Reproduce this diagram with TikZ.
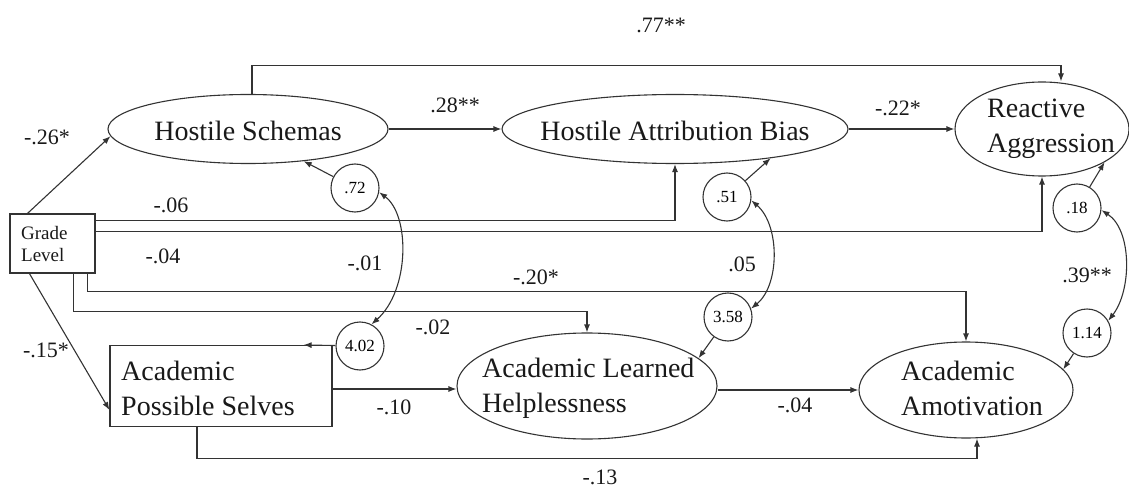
\documentclass[tikz,border=0pt]{standalone}
\usepackage{fontspec}
\setmainfont{Liberation Serif}
\usetikzlibrary{shapes.geometric,arrows.meta}

\tikzset{
  ink/.style={line width=1.1pt, draw=black!80},
  conn/.style={ink, -{Latex[length=8pt,width=6pt]}},
  cov/.style={ink, {Latex[length=8pt,width=6pt]}-{Latex[length=8pt,width=6pt]}},
  latent/.style={ellipse, ink, inner sep=0pt},
  observed/.style={rectangle, ink, inner sep=0pt},
  resid/.style={circle, ink, minimum size=48pt, inner sep=0pt,
    font=\fontsize{17}{17}\selectfont},
  varname/.style={inner sep=0pt, align=left, text=black!90,
    font=\fontsize{28}{35}\selectfont},
  coef/.style={inner sep=0pt, text=black!90, font=\fontsize{22}{22}\selectfont},
}

\begin{document}
\begin{tikzpicture}[x=1pt, y=-1pt]
\useasboundingbox (0,0) rectangle (1129,489);

% latent variables
\node[latent, minimum width=280pt, minimum height=69pt] (hs) at (248,129) {};
\node[latent, minimum width=346pt, minimum height=69pt] (hab) at (675,129) {};
\node[latent, minimum width=174pt, minimum height=94pt] (ra) at (1042,129) {};
\node[latent, minimum width=260pt, minimum height=106pt] (alh) at (587,386) {};
\node[latent, minimum width=214pt, minimum height=96pt] (aa) at (966,390) {};

% observed variables
\node[observed, minimum width=85pt, minimum height=59pt] (gl) at (52.5,243.5) {};
\node[observed, minimum width=222pt, minimum height=81pt] (aps) at (221,386) {};

% variable names
\node[varname] (hs-t) at (248,131) {Hostile Schemas};
\node[varname] (hab-t) at (675,131) {Hostile Attribution Bias};
\node[varname, anchor=west] (ra-t) at (987,129) {Reactive\\Aggression};
\node[varname, anchor=west] (alh-t) at (482,388) {Academic Learned\\Helplessness};
\node[varname, anchor=west] (aa-t) at (901,388) {Academic\\Amotivation};
\node[varname, anchor=west] (aps-t) at (121,388) {Academic\\Possible Selves};
\node[varname, anchor=west, font=\fontsize{19}{22}\selectfont] (gl-t) at (21,244) {Grade\\Level};

% disturbances
\node[resid] (c72) at (355,188) {.72};
\node[resid] (c51) at (727,197) {.51};
\node[resid] (c18) at (1077,208) {.18};
\node[resid] (c402) at (360,346) {4.02};
\node[resid] (c358) at (728,317) {3.58};
\node[resid] (c114) at (1087,333) {1.14};

% structural paths
\draw[conn] ([xshift=4pt]hs.north) -- ++(0,-28) -| ([xshift=19pt]ra.north);
\draw[conn] (hs.east) -- (hab.west);
\draw[conn] (hab.east) -- (ra.west);
\draw[conn] ([xshift=18pt]gl.north west) -- (hs.183);
\draw[conn] ([yshift=-7pt]gl.north east) -| (hab.south);
\draw[conn] ([yshift=-18pt]gl.north east) -| (ra.south);
\draw[conn] ([xshift=-8pt]gl.south east) -- ++(0,18) -| (aa.north);
\draw[conn] ([xshift=-22pt]gl.south east) -- ++(0,38) -| (alh.north);
\draw[conn] ([xshift=20pt]gl.south west) -- ([yshift=-24pt]aps.west);
\draw[conn] ([yshift=-3pt]aps.east) -- ([yshift=-3pt]alh.west);
\draw[conn] ([yshift=-4pt]alh.east) -- (aa.west);
\draw[conn] ([xshift=-24pt]aps.south) -- ++(0,31) -| ([xshift=11pt]aa.south);

% disturbance paths
\draw[conn] (c72) -- (hs.-30);
\draw[conn] (c51) -- (hab.-17);
\draw[conn] (c18) -- (ra.-28);
\draw[conn] (c402) -- ([xshift=-29pt]aps.north east);
\draw[conn] (c358) -- (alh.14);
\draw[conn] (c114) -- (aa.12);

% disturbance covariances
\draw[cov] (c72.-10) .. controls (410,215) and (410,290) .. (c402.62);
\draw[cov] (c51.-8) .. controls (780,225) and (780,285) .. (c358.20);
\draw[cov] (c18.-5) .. controls (1132,230) and (1132,290) .. (c114.30);

% coefficients
\node[coef] (l77) at (661,25) {.77**};
\node[coef] (l28) at (455,105) {.28**};
\node[coef] (l22) at (898,108) {-.22*};
\node[coef] (l26) at (47,137) {-.26*};
\node[coef] (l06) at (171,205) {-.06};
\node[coef] (l04a) at (163,256) {-.04};
\node[coef] (l01) at (365,263) {-.01};
\node[coef] (l05) at (742,264) {.05};
\node[coef] (l39) at (1087,275) {.39**};
\node[coef] (l20) at (536,277) {-.20*};
\node[coef] (l02) at (433,327) {-.02};
\node[coef] (l15) at (46,350) {-.15*};
\node[coef] (l10) at (394,407) {-.10};
\node[coef] (l04b) at (795,405) {-.04};
\node[coef] (l13) at (600,477) {-.13};
\end{tikzpicture}
\end{document}
